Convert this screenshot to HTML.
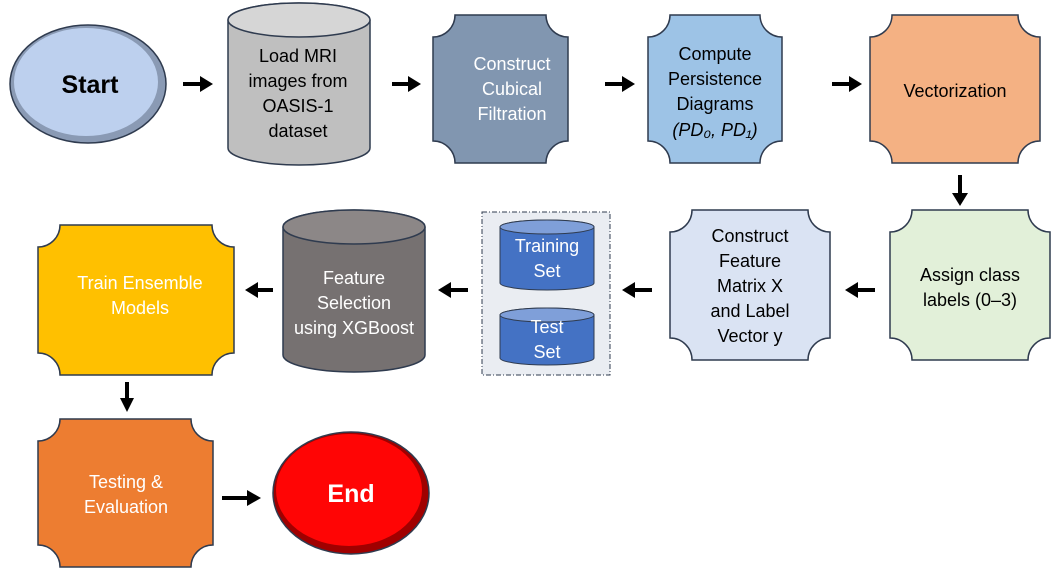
<!DOCTYPE html>
<html><head><meta charset="utf-8"><style>
html,body{margin:0;padding:0;background:#fff;}
svg{display:block;}
text{font-family:"Liberation Sans",sans-serif;font-size:18px;text-anchor:middle;}
</style></head><body>
<svg width="1063" height="579" viewBox="0 0 1063 579" xmlns="http://www.w3.org/2000/svg">
<g stroke="#2f3b4f" stroke-width="1.5">
<ellipse cx="88" cy="84" rx="78" ry="59" fill="#8a9ab4"/>
<ellipse cx="86" cy="82" rx="72" ry="54" fill="#bdd0ee" stroke="none"/>
<path d="M228,20 V148 A71 17 0 0 0 370,148 V20 A71 17 0 0 0 228,20 Z" fill="#bfbfbf"/>
<ellipse cx="299" cy="20" rx="71" ry="17" fill="#d6d6d6"/>
<path d="M455,15 H546 A22 22 0 0 0 568,37 V141 A22 22 0 0 0 546,163 H455 A22 22 0 0 0 433,141 V37 A22 22 0 0 0 455,15Z" fill="#8196b0"/>
<path d="M670,15 H760 A22 22 0 0 0 782,37 V141 A22 22 0 0 0 760,163 H670 A22 22 0 0 0 648,141 V37 A22 22 0 0 0 670,15Z" fill="#9dc3e6"/>
<path d="M892,15 H1018 A22 22 0 0 0 1040,37 V141 A22 22 0 0 0 1018,163 H892 A22 22 0 0 0 870,141 V37 A22 22 0 0 0 892,15Z" fill="#f4b183"/>
<path d="M912,210 H1028 A22 22 0 0 0 1050,232 V338 A22 22 0 0 0 1028,360 H912 A22 22 0 0 0 890,338 V232 A22 22 0 0 0 912,210Z" fill="#e2f0d9"/>
<path d="M692,210 H808 A22 22 0 0 0 830,232 V338 A22 22 0 0 0 808,360 H692 A22 22 0 0 0 670,338 V232 A22 22 0 0 0 692,210Z" fill="#dae3f3"/>
<path d="M60,225 H212 A22 22 0 0 0 234,247 V353 A22 22 0 0 0 212,375 H60 A22 22 0 0 0 38,353 V247 A22 22 0 0 0 60,225Z" fill="#ffc000"/>
<path d="M60,419 H191 A22 22 0 0 0 213,441 V545 A22 22 0 0 0 191,567 H60 A22 22 0 0 0 38,545 V441 A22 22 0 0 0 60,419Z" fill="#ed7d31"/>
<path d="M283,227 V355 A71 17 0 0 0 425,355 V227 A71 17 0 0 0 283,227 Z" fill="#767171"/>
<ellipse cx="354" cy="227" rx="71" ry="17" fill="#8c8787"/>
<rect x="482" y="212" width="128" height="163" fill="#eaedf2" stroke-dasharray="5 2 1 2" stroke-width="1"/>
<path d="M500,227 V283 A47 7 0 0 0 594,283 V227 A47 7 0 0 0 500,227Z" fill="#4472c4" stroke-width="1"/>
<ellipse cx="547" cy="227" rx="47" ry="7" fill="#7f9fd9" stroke-width="1"/>
<path d="M500,315 V358 A47 7 0 0 0 594,358 V315 A47 7 0 0 0 500,315Z" fill="#4472c4" stroke-width="1"/>
<ellipse cx="547" cy="315" rx="47" ry="7" fill="#7f9fd9" stroke-width="1"/>
<ellipse cx="351" cy="493" rx="78" ry="61" fill="#a00000"/>
<ellipse cx="349" cy="490" rx="73" ry="56" fill="#ff0505" stroke="none"/>
</g>
<g fill="#000">
<path d="M183,82 H200 V76 L213,84 L200,92 V86 H183Z"/>
<path d="M392,82 H408 V76 L421,84 L408,92 V86 H392Z"/>
<path d="M605,82 H622 V76 L635,84 L622,92 V86 H605Z"/>
<path d="M832,82 H849 V76 L862,84 L849,92 V86 H832Z"/>
<path d="M958,175 V193 H952 L960,206 L968,193 H962 V175Z"/>
<path d="M875,288 H858 V282 L845,290 L858,298 V292 H875Z"/>
<path d="M652,288 H635 V282 L622,290 L635,298 V292 H652Z"/>
<path d="M468,288 H451 V282 L438,290 L451,298 V292 H468Z"/>
<path d="M273,288 H258 V282 L245,290 L258,298 V292 H273Z"/>
<path d="M125,382 V398 H120 L127,412 L134,398 H129 V382Z"/>
<path d="M222,496 H247 V490 L261,498 L247,506 V500 H222Z"/>
</g>
<text x="90" y="93" style="font-size:25px;font-weight:bold">Start</text>
<text x="298" y="62">Load MRI</text>
<text x="298" y="87">images from</text>
<text x="298" y="112">OASIS-1</text>
<text x="298" y="137">dataset</text>
<g fill="#fff"><text x="512" y="70">Construct</text><text x="512" y="95">Cubical</text><text x="512" y="120">Filtration</text></g>
<text x="715" y="60">Compute</text>
<text x="715" y="85">Persistence</text>
<text x="715" y="110">Diagrams</text>
<text x="715" y="136" style="font-style:italic">(PD₀, PD₁)</text>
<text x="955" y="97">Vectorization</text>
<text x="970" y="281">Assign class</text>
<text x="970" y="306">labels (0–3)</text>
<text x="750" y="242">Construct</text>
<text x="750" y="267">Feature</text>
<text x="750" y="292">Matrix X</text>
<text x="750" y="317">and Label</text>
<text x="750" y="342">Vector y</text>
<g fill="#fff">
<text x="547" y="252">Training</text><text x="547" y="277">Set</text>
<text x="547" y="333">Test</text><text x="547" y="358">Set</text>
<text x="354" y="284">Feature</text><text x="354" y="309">Selection</text><text x="354" y="334">using XGBoost</text>
<text x="140" y="289">Train Ensemble</text><text x="140" y="314">Models</text>
<text x="126" y="488">Testing &amp;</text><text x="126" y="513">Evaluation</text>
<text x="351" y="502" style="font-size:25px;font-weight:bold">End</text>
</g>
</svg>
</body></html>
